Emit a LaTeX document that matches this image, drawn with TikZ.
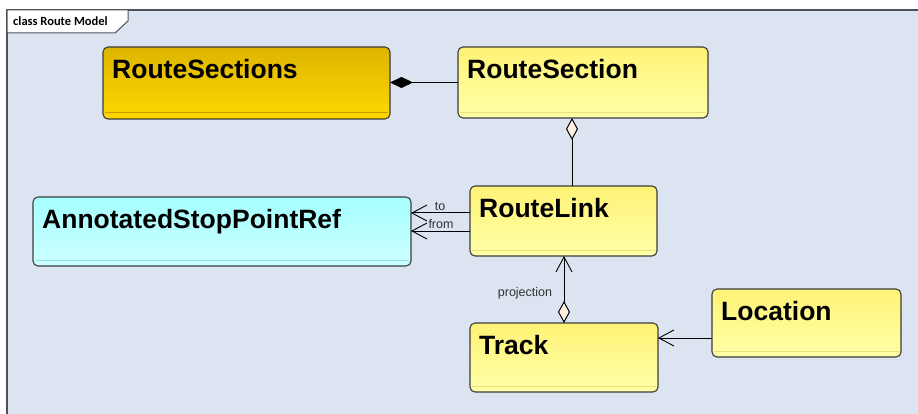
\documentclass[tikz,border=0pt]{standalone}
\usepackage{fontspec}
\setmainfont{Liberation Sans}
\newfontfamily\tabfont{Carlito}
\usetikzlibrary{arrows.meta,calc}

\definecolor{framebg}{RGB}{219,228,240}
\definecolor{frameline}{RGB}{80,82,90}
\definecolor{boxline}{RGB}{60,60,60}
\definecolor{goldtop}{RGB}{221,181,0}
\definecolor{goldbot}{RGB}{255,216,0}
\definecolor{goldsep}{RGB}{200,160,0}
\definecolor{yeltop}{RGB}{255,243,118}
\definecolor{yelbot}{RGB}{255,255,168}
\definecolor{yelsep}{RGB}{235,225,120}
\definecolor{cyantop}{RGB}{165,255,255}
\definecolor{cyanbot}{RGB}{205,255,255}
\definecolor{cyansep}{RGB}{150,225,235}
\definecolor{diamondfill}{RGB}{255,240,226}
\definecolor{labeltext}{RGB}{50,50,50}

\tikzset{
  classbox/.style={draw=boxline, line width=1.1pt, rounded corners=5pt,
    rectangle, inner sep=0pt, outer sep=0pt, anchor=north west},
  goldbox/.style={classbox, top color=goldtop, bottom color=goldbot},
  yelbox/.style={classbox, top color=yeltop, bottom color=yelbot},
  cyanbox/.style={classbox, top color=cyantop, bottom color=cyanbot},
  classname/.style={anchor=north west, inner sep=0pt, xshift=9pt, yshift=-12.5pt,
    text height=19pt, font=\bfseries\fontsize{26.5}{31}\selectfont},
  connector/.style={draw=black, line width=1pt},
  openarrow/.tip={Straight Barb[length=15pt, width=16pt, line width=0.9pt]},
  filleddiamond/.tip={Diamond[length=23pt, width=11pt, fill=black]},
  hollowdiamond/.tip={Diamond[length=22pt, width=12pt, fill=diamondfill, line width=1pt]},
  rolelabel/.style={inner sep=0pt, text=labeltext, font=\fontsize{12.5}{14}\selectfont},
}

\begin{document}
\begin{tikzpicture}[x=1pt, y=-1pt]
  \useasboundingbox (0,0) rectangle (918,414);
  \fill[white] (0,0) rectangle (918,414);

  % diagram frame with its name tab
  \fill[framebg] (7,10) rectangle (918,414);
  \draw[frameline, line width=1.4pt] (918,10) -- (7,10) -- (7,414);
  \draw[frameline, line width=1pt, fill=white]
    (7,10) -- (128,10) -- (128,21) -- (115,33) -- (7,33) -- cycle;
  \node[anchor=west, inner sep=0pt, font=\tabfont\bfseries\fontsize{12.5}{14}\selectfont]
    (frametitle) at (13,21.5) {class Route Model};

  % classes
  \node[goldbox, minimum width=287pt, minimum height=72pt,
        label={[classname]north west:RouteSections}] (RouteSections) at (103,47) {};
  \node[yelbox, minimum width=250pt, minimum height=71pt,
        label={[classname]north west:RouteSection}] (RouteSection) at (458,47) {};
  \node[cyanbox, minimum width=378pt, minimum height=69pt,
        label={[classname]north west:AnnotatedStopPointRef}] (ASPR) at (33,197) {};
  \node[yelbox, minimum width=187pt, minimum height=70pt,
        label={[classname]north west:RouteLink}] (RouteLink) at (470,186) {};
  \node[yelbox, minimum width=189pt, minimum height=68pt,
        label={[classname]north west:Location}] (Location) at (712,289) {};
  \node[yelbox, minimum width=188pt, minimum height=69pt,
        label={[classname]north west:Track}] (Track) at (470,323) {};

  % compartment lines near the bottom of each class
  \draw[goldsep, line width=1pt]
    ($(RouteSections.south west)+(2,-6)$) -- ($(RouteSections.south east)+(-2,-6)$);
  \foreach \c in {RouteSection,RouteLink,Location,Track}
    \draw[yelsep, line width=0.6pt]
      ($(\c.south west)+(2,-6)$) -- ($(\c.south east)+(-2,-6)$);
  \draw[cyansep, line width=0.6pt]
    ($(ASPR.south west)+(2,-6)$) -- ($(ASPR.south east)+(-2,-6)$);

  % composition RouteSections <>-- RouteSection
  \draw[connector, -filleddiamond]
    (RouteSection.west) -- (RouteSection.west -| RouteSections.east);

  % aggregation RouteSection <>-- RouteLink
  \draw[connector, -hollowdiamond]
    ([xshift=8.5pt]RouteLink.north) -- ([xshift=8.5pt]RouteLink.north |- RouteSection.south);

  % RouteLink to / from AnnotatedStopPointRef
  \draw[connector, -openarrow]
    ($(RouteLink.west)+(0,-8)$) -- ($(ASPR.east |- RouteLink.west)+(0,-8)$);
  \draw[connector, -openarrow]
    ($(RouteLink.west)+(0,10)$) -- ($(ASPR.east |- RouteLink.west)+(0,10)$);
  \node[rolelabel] (tolabel) at (440,207) {to};
  \node[rolelabel] (fromlabel) at (441,224) {from};

  % Track projection onto RouteLink
  \draw[connector, hollowdiamond-openarrow]
    (Track.north) -- (Track.north |- RouteLink.south);
  \node[rolelabel] (projlabel) at (525,293) {projection};

  % Location --> Track
  \draw[connector, -openarrow]
    ($(Location.west)+(0,15)$) -- ($(Track.east |- Location.west)+(0,15)$);
\end{tikzpicture}
\end{document}
